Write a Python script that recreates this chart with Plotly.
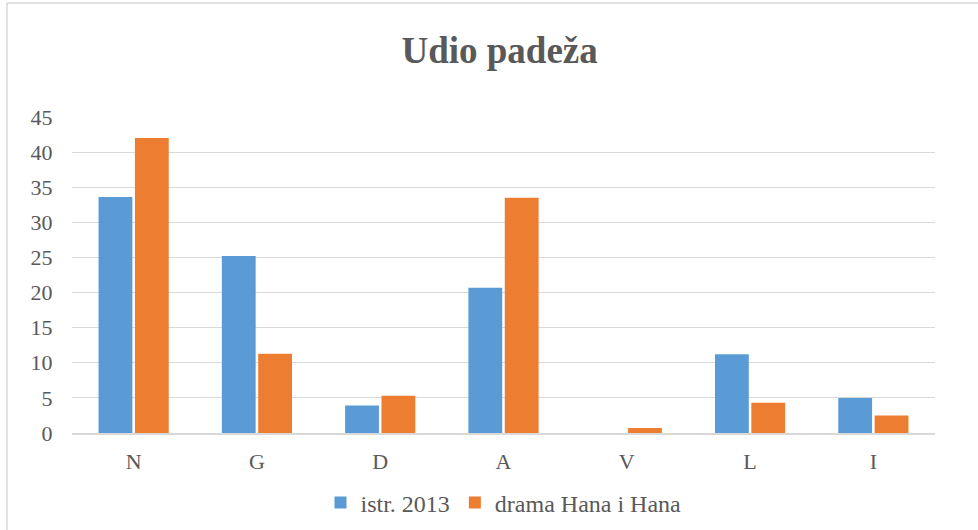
import plotly.graph_objects as go

categories = ["N", "G", "D", "A", "V", "L", "I"]
series_names = ["istr. 2013", "drama Hana i Hana"]
istr_2013 = [33.6, 25.2, 3.9, 20.7, 0, 11.2, 5.0]
drama_hana = [42.0, 11.3, 5.3, 33.5, 0.7, 4.3, 2.5]
y_ticks = [0, 5, 10, 15, 20, 25, 30, 35, 40, 45]

W, H = 978, 530
ML, MR, MT, MB = 72, 43, 117, 97
PW, PH = W - ML - MR, H - MT - MB

FONT = "Liberation Serif, Times New Roman, serif"
GREY = "#595959"

fig = go.Figure()
fig.add_trace(go.Bar(x=categories, y=istr_2013, name=series_names[0],
                     marker=dict(color="#5B9BD5", line=dict(width=0))))
fig.add_trace(go.Bar(x=categories, y=drama_hana, name=series_names[1],
                     marker=dict(color="#ED7D31", line=dict(width=0))))

# outer chart border (left and top visible in reference)
bx = (7 - ML) / PW
by = 1 + (MT - 3) / PH
fig.add_shape(type="line", xref="paper", yref="paper", x0=bx, x1=bx, y0=by, y1=-1,
              line=dict(color="#d9d9d9", width=1.5))
fig.add_shape(type="line", xref="paper", yref="paper", x0=bx, x1=2, y0=by, y1=by,
              line=dict(color="#d9d9d9", width=1.5))

fig.update_layout(
    width=W, height=H,
    margin=dict(l=ML, r=MR, t=MT, b=MB, autoexpand=False),
    paper_bgcolor="white", plot_bgcolor="white",
    barmode="group", bargap=0.41, bargroupgap=0.07,
    title=dict(text="<b>Udio padeža</b>", x=(ML + PW / 2) / W - 0.004, xanchor="center",
               y=1 - 50 / H, yanchor="middle",
               font=dict(family=FONT, size=37, color=GREY)),
    font=dict(family=FONT, size=22, color=GREY),
    showlegend=True,
    legend=dict(orientation="h", x=0.5, xanchor="center",
                y=-(503 - 433) / PH, yanchor="middle",
                font=dict(family=FONT, size=24, color=GREY),
                itemwidth=30, traceorder="normal"),
    xaxis=dict(showgrid=False, showline=True, linecolor="#d9d9d9", linewidth=1.5,
               ticks="", ticklabelstandoff=8,
               tickfont=dict(family=FONT, size=22, color=GREY)),
    yaxis=dict(range=[0, 45], tickvals=y_ticks, showgrid=True, gridcolor="#d9d9d9",
               gridwidth=1.3, zeroline=False, showline=False, ticks="outside",
               ticklen=14, tickcolor="white",
               tickfont=dict(family=FONT, size=22, color=GREY)),
)

fig.write_html("out.html", config={"displayModeBar": False},
               post_script="document.body.style.margin='0';document.body.style.padding='0';")
